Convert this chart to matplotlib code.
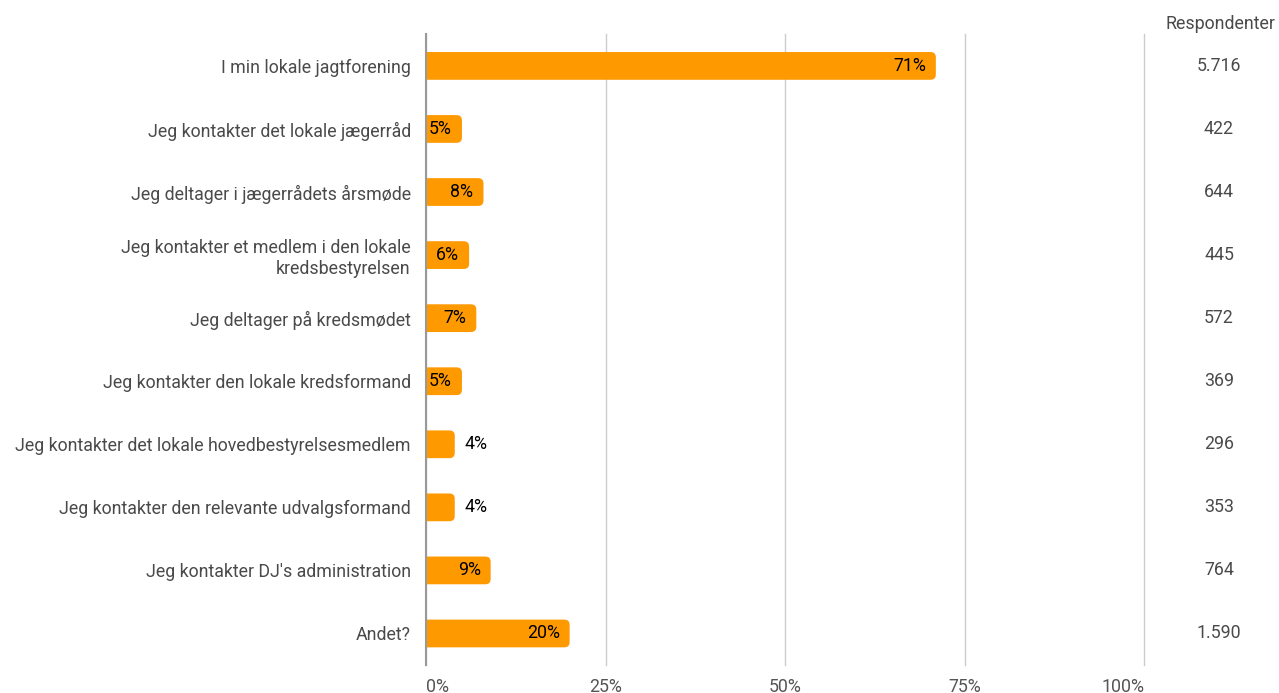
import numpy as np
import matplotlib.pyplot as plt
from matplotlib.patches import FancyBboxPatch
import matplotlib.transforms as mtransforms

plt.rcParams['font.family'] = ['Roboto', 'DejaVu Sans']

categories = ["I min lokale jagtforening",
              "Jeg kontakter det lokale jægerråd",
              "Jeg deltager i jægerrådets årsmøde",
              "Jeg kontakter et medlem i den lokale\nkredsbestyrelsen",
              "Jeg deltager på kredsmødet",
              "Jeg kontakter den lokale kredsformand",
              "Jeg kontakter det lokale hovedbestyrelsesmedlem",
              "Jeg kontakter den relevante udvalgsformand",
              "Jeg kontakter DJ's administration",
              "Andet?"]
percent = [71, 5, 8, 6, 7, 5, 4, 4, 9, 20]
pct_labels = ["71%", "5%", "8%", "6%", "7%", "5%", "4%", "4%", "9%", "20%"]
respondents = ["5.716", "422", "644", "445", "572", "369", "296", "353", "764", "1.590"]

orange = "#FF9900"

fig = plt.figure(figsize=(12.79, 6.93), dpi=100)
ax = fig.add_axes([0.3331, 0.0404, 0.5614, 0.91])

y = np.arange(len(categories))
bars = ax.barh(y, percent, height=0.44, color=orange)
ax.set_xlim(0, 100)
ax.set_ylim(len(categories) - 0.5, -0.5)

# swap plain bars for ones with rounded right ends (left end clipped by the axes)
for b in bars:
    x0, y0, w, h = b.get_x(), b.get_y(), b.get_width(), b.get_height()
    b.set_visible(False)
    p = FancyBboxPatch((x0 - 2, y0), w + 2, h, boxstyle="round,pad=0,rounding_size=0.75",
                       mutation_aspect=0.11, fc=orange, ec="none", zorder=2)
    ax.add_patch(p)

for i, (v, lab) in enumerate(zip(percent, pct_labels)):
    if v <= 4:
        ax.annotate(lab, (v, i), xytext=(10, 0), textcoords="offset pixels",
                    ha="left", va="center", fontsize=12.8, color="black", zorder=3)
    else:
        ax.annotate(lab, (v, i), xytext=(-10, 0), textcoords="offset pixels",
                    ha="right", va="center", fontsize=12.8, color="black", zorder=3)

ax.set_xticks([0, 25, 50, 75, 100])
ax.set_xticklabels(["0%", "25%", "50%", "75%", "100%"])
for t, ha in zip(ax.get_xticklabels(), ["left", "center", "center", "center", "right"]):
    t.set_ha(ha)
ax.tick_params(axis="x", length=0, pad=9, labelsize=12.8, labelcolor="#555555")
ax.set_yticks(y)
ax.set_yticklabels(categories)
ax.tick_params(axis="y", length=0, pad=11, labelsize=12.8, labelcolor="#4a4a4a")

ax.grid(axis="x", color="#cccccc", linewidth=1, zorder=0)
for gl in ax.get_xgridlines():
    gl.set_clip_on(False)
ax.set_axisbelow(True)
for s in ["top", "right", "bottom"]:
    ax.spines[s].set_visible(False)
ax.spines["left"].set_color("#999999")
ax.spines["left"].set_linewidth(1.5)
ax.spines["left"].set_zorder(4)

# respondent column to the right of the plot
trans = mtransforms.blended_transform_factory(fig.transFigure, ax.transData)
for i, r in enumerate(respondents):
    ax.text(1219 / 1279, i, r, transform=trans, ha="center", va="center",
            fontsize=12.8, color="#4a4a4a", clip_on=False)
fig.text(1220 / 1279, 1 - 24 / 693, "Respondenter", ha="center", va="center",
         fontsize=12.8, color="#4a4a4a")

fig.savefig("out.png", dpi=100)
